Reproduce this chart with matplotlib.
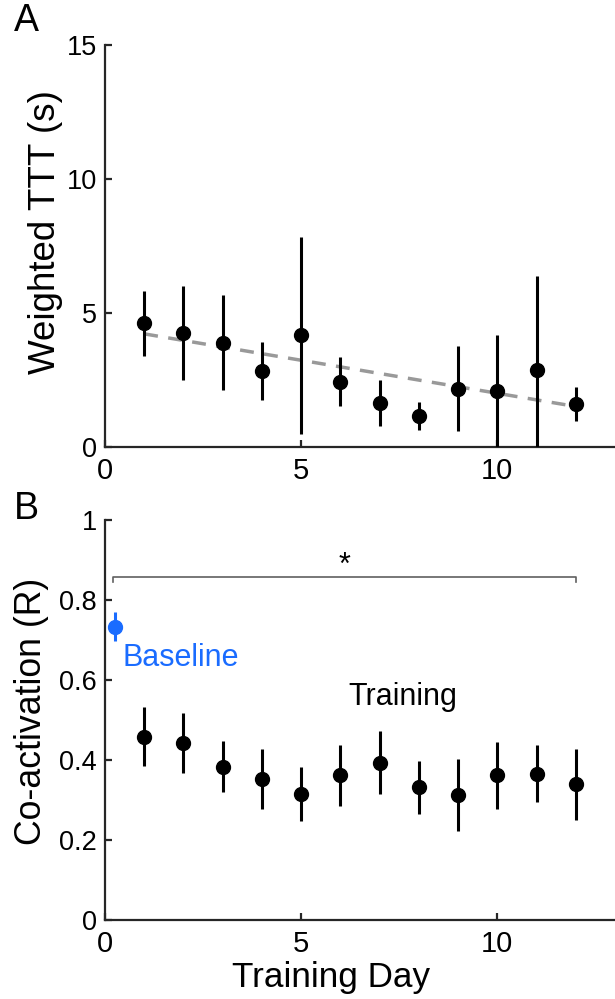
import numpy as np
import matplotlib
matplotlib.use("Agg")
import matplotlib.pyplot as plt

plt.rcParams['font.family'] = ['Liberation Sans', 'DejaVu Sans']

# Panel A: weighted TTT per training day
days = np.arange(1, 13)
ttt_mean = [4.62, 4.26, 3.88, 2.83, 4.16, 2.44, 1.64, 1.14, 2.17, 2.07, 2.88, 1.59]
ttt_upper = [5.83, 6.00, 5.67, 3.92, 7.84, 3.37, 2.48, 1.66, 3.75, 4.18, 6.39, 2.23]
ttt_lower = [3.40, 2.51, 2.11, 1.74, 0.47, 1.51, 0.79, 0.62, 0.60, -0.3, -0.3, 0.97]
trend_x = [1, 12]
trend_y = [4.22, 1.51]

# Panel B: co-activation per training day
coact_mean = [0.458, 0.442, 0.383, 0.352, 0.315, 0.362, 0.393, 0.332, 0.3125, 0.362, 0.366, 0.339]
coact_upper = [0.533, 0.517, 0.448, 0.427, 0.382, 0.438, 0.473, 0.398, 0.403, 0.445, 0.4375, 0.4275]
coact_lower = [0.385, 0.368, 0.321, 0.277, 0.248, 0.285, 0.314, 0.265, 0.223, 0.2775, 0.294, 0.250]
base_x = 0.25
base_mean = 0.733
base_upper = 0.771
base_lower = 0.698

BLUE = '#1a6cff'
AX = '#262626'

fig = plt.figure(figsize=(6.15, 9.99), dpi=100)
axA = fig.add_axes([0.1707, 0.5526, 0.8293, 0.4024])
axB = fig.add_axes([0.1707, 0.0791, 0.8293, 0.4004])


def style(ax):
    for s in ['top', 'right']:
        ax.spines[s].set_visible(False)
    for s in ['left', 'bottom']:
        ax.spines[s].set_linewidth(1.6)
        ax.spines[s].set_color(AX)
    ax.tick_params(direction='in', length=5, width=1.6, color=AX, pad=6)
    ax.tick_params(axis='y', labelsize=19.5)
    ax.tick_params(axis='x', labelsize=21, pad=7)
    ax.set_xlim(0, 13)
    ax.set_xticks([0, 5, 10])


def errs(mean, lo, hi):
    m = np.array(mean)
    return [m - np.array(lo), np.array(hi) - m]


# A
style(axA)
axA.plot(trend_x, trend_y, '--', color='#999999', lw=2.5, dashes=(4, 3), zorder=1)
axA.errorbar(days, ttt_mean, yerr=errs(ttt_mean, ttt_lower, ttt_upper), fmt='o',
             color='black', ms=10, elinewidth=2.2, capsize=0, zorder=3)
axA.set_ylim(0, 15)
axA.set_yticks([0, 5, 10, 15])
axA.set_ylabel('Weighted TTT (s)', fontsize=26.5, va='center')
axA.yaxis.set_label_coords(-0.1167, 0.535)
fig.text(0.022, 0.997, 'A', fontsize=27, va='top', ha='left')

# B
style(axB)
axB.errorbar(days, coact_mean, yerr=errs(coact_mean, coact_lower, coact_upper), fmt='o',
             color='black', ms=10, elinewidth=2.2, capsize=0, zorder=3)
axB.errorbar([base_x], [base_mean], yerr=[[base_mean - base_lower], [base_upper - base_mean]],
             fmt='o', color=BLUE, ms=10, elinewidth=2.2, capsize=0, zorder=3, clip_on=False)
axB.plot([0.2, 0.2, 12, 12], [0.846, 0.857, 0.857, 0.846], color='#606060', lw=1.2)
axB.text(6.1, 0.885, '*', fontsize=22, ha='center', va='center')
axB.text(0.45, 0.654, 'Baseline', color=BLUE, fontsize=22, ha='left', va='center')
axB.text(6.2, 0.558, 'Training', color='black', fontsize=22, ha='left', va='center')
axB.set_ylim(0, 1)
axB.set_yticks([0, 0.2, 0.4, 0.6, 0.8, 1])
axB.set_yticklabels(['0', '0.2', '0.4', '0.6', '0.8', '1'])
axB.set_ylabel('Co-activation (R)', fontsize=25.7, va='center')
axB.yaxis.set_label_coords(-0.144, 0.5225)
axB.set_xlabel('Training Day', fontsize=25.3, va='center')
axB.xaxis.set_label_coords(0.444, -0.145)
fig.text(0.022, 0.5085, 'B', fontsize=27, va='top', ha='left')

fig.savefig('out.png', dpi=100)
